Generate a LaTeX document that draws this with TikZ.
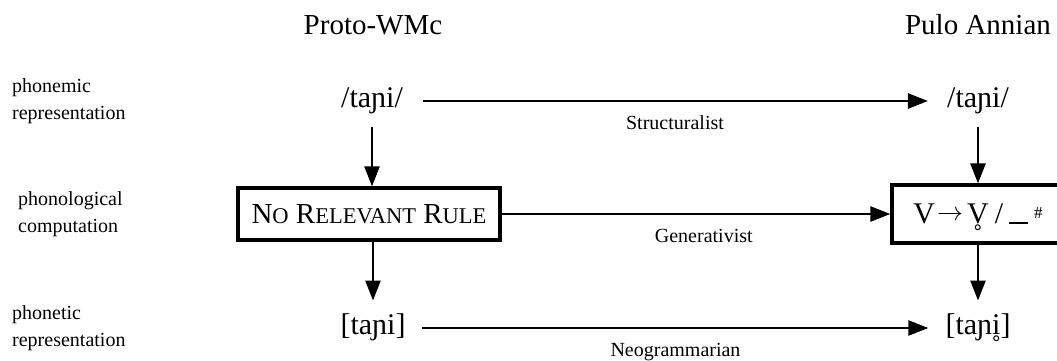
\documentclass[tikz,border=0pt]{standalone}
\usepackage{fontspec}
\setmainfont{Liberation Serif}
\usetikzlibrary{arrows.meta}
\newcommand{\fbig}{\fontsize{29}{34}\selectfont}
\newcommand{\fipa}{\fontsize{30}{34}\selectfont}
\newcommand{\fsmall}{\fontsize{20}{26.5}\selectfont}
\newcommand{\smc}[1]{{\fontsize{22.5}{26}\selectfont #1}}
\newcommand{\ringbelow}[1]{{\ooalign{#1\cr\hidewidth\raisebox{-23pt}[0pt][0pt]{˚}\hidewidth\cr}}}
\newcommand{\thinarrow}{\scalebox{2.6}{\fontsize{10}{12}\selectfont$\rightarrow$}}
\tikzset{
  arr/.style={line width=2.5pt, -{Triangle[length=20pt,width=15pt]}},
  hdr/.style={font=\fbig, inner sep=0pt, anchor=base},
  ipa/.style={font=\fipa, inner sep=0pt, text height=21pt, text depth=7.5pt},
  lbl/.style={font=\fsmall, inner sep=0pt, anchor=west, align=left},
  elbl/.style={font=\fsmall, inner sep=0pt, anchor=base, yshift=-28pt},
  rulebox/.style={draw, line width=3.2pt, inner sep=0pt, font=\fbig},
}
\begin{document}
\begin{tikzpicture}[x=1pt,y=-1pt]
\useasboundingbox (0,0) rectangle (1057,361);
\clip (0,0) rectangle (1057,361);
% headers
\node[hdr] (hl) at (373,35) {Proto-WMc};
\node[hdr] (hr) at (978,35) {Pulo Annian};
% row labels
\node[lbl] (l1) at (12,101) {phonemic\\representation};
\node[lbl] (l2) at (18,214) {phonological\\computation};
\node[lbl] (l3) at (12,328) {phonetic\\representation};
% forms
\node[ipa] (lt) at (372,101) {/taɲi/};
\node[ipa] (rt) at (978,101) {/taɲi/};
\node[ipa] (lb) at (373,328) {[taɲi]};
\node[ipa] (rb) at (978,328) {[taɲ\ringbelow{i}]};
% rule boxes
\node[rulebox, minimum width=262pt, minimum height=52pt] (lbox) at (369,214)
  {N\smc{O} R\smc{ELEVANT} R\smc{ULE}};
\node[rulebox, minimum width=172pt, minimum height=58pt, font=\fipa, text height=20pt, text depth=2pt] (rbox) at (978,214)
  {V\hspace{2pt}\raisebox{2.5pt}{\thinarrow}\hspace{4pt}\ringbelow{V}\hspace{6pt}/\hspace{6pt}\rule[-1pt]{19pt}{2.4pt}\hspace{6pt}\raisebox{5pt}{\fontsize{17}{17}\selectfont\#}};
% horizontal connectors
\draw[arr, shorten <=20pt, shorten >=19pt] (lt) -- node[elbl] (s1) {Structuralist} (rt);
\draw[arr] (lbox) -- node[elbl, pos=0.52] (s2) {Generativist} (rbox);
\draw[arr, shorten <=16pt, shorten >=17pt] (lb) -- node[elbl] (s3) {Neogrammarian} (rb);
% vertical connectors
\draw[arr, shorten <=12pt] (lt) -- (lt |- lbox.north);
\draw[arr, shorten <=12pt] (rt) -- (rbox);
\draw[arr, shorten >=13pt] (lbox.south -| lb) -- (lb);
\draw[arr, shorten >=13pt] (rbox) -- (rb);
\end{tikzpicture}
\end{document}
